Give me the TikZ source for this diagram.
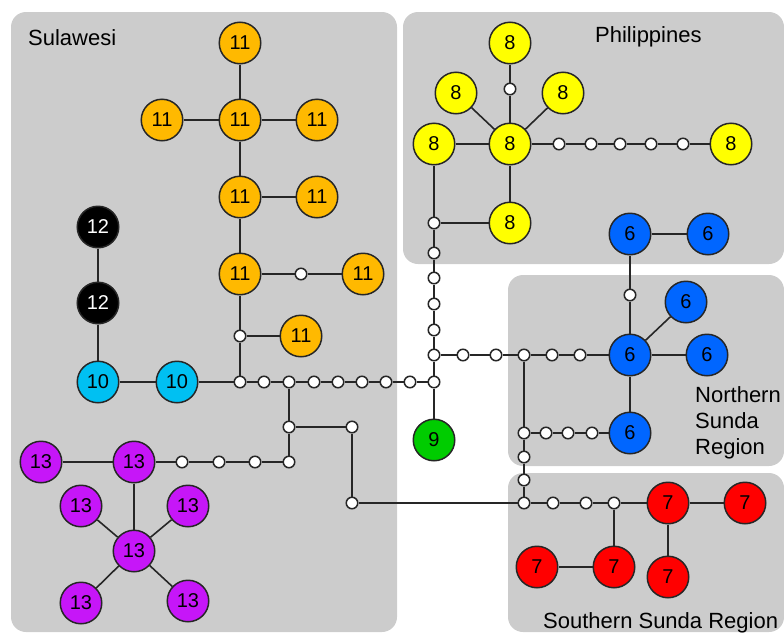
\documentclass[tikz,border=0pt]{standalone}
\usepackage{fontspec}
\setmainfont{Liberation Sans}
\definecolor{panel}{HTML}{CCCCCC}
\definecolor{hOrange}{HTML}{FFB900}
\definecolor{hYellow}{HTML}{FFFF00}
\definecolor{hCyan}{HTML}{00C0F2}
\definecolor{hBlue}{HTML}{0066FF}
\definecolor{hGreen}{HTML}{00CC00}
\definecolor{hRed}{HTML}{FF0000}
\definecolor{hPurple}{HTML}{C616F8}
\definecolor{edge}{HTML}{262626}
\begin{document}
\begin{tikzpicture}[x=1pt, y=-1pt,
  hap/.style={circle, draw=edge, line width=1.5pt, minimum size=41.5pt, inner sep=0pt,
    font=\fontsize{20}{20}\selectfont},
  mv/.style={circle, draw=edge, fill=white, line width=1.5pt, minimum size=11.5pt, inner sep=0pt},
  link/.style={draw=edge, line width=1.6pt},
  region/.style={fill=panel, rounded corners=15pt},
  lbl/.style={font=\fontsize{22}{26}\selectfont, inner sep=0pt}]
  \useasboundingbox (0,0) rectangle (784,632);

  % regions
  \fill[region] (11,12) rectangle (397,632);
  \fill[region] (403,12) rectangle (784,264);
  \fill[region] (508,275) rectangle (784,466);
  \fill[region] (508,473) rectangle (784,632);
  \node[lbl, anchor=base west] at (28,45) {Sulawesi};
  \node[lbl, anchor=base west] at (595,42) {Philippines};
  \node[lbl, anchor=north west, align=left] at (695,386) {Northern\\Sunda\\Region};
  \node[lbl, anchor=base west] at (543,628) {Southern Sunda Region};

  % Sulawesi: 11
  \node[hap, fill=hOrange] (o1) at (240,43) {11};
  \node[hap, fill=hOrange] (o2) at (240,120) {11};
  \node[hap, fill=hOrange] (o2l) at (162,120) {11};
  \node[hap, fill=hOrange] (o2r) at (317,120) {11};
  \node[hap, fill=hOrange] (o3) at (240,197) {11};
  \node[hap, fill=hOrange] (o3r) at (317,197) {11};
  \node[hap, fill=hOrange] (o4) at (240,274) {11};
  \node[mv] (m1) at (301,274) {};
  \node[hap, fill=hOrange] (o4r) at (363,274) {11};
  \node[mv] (m2) at (240,336) {};
  \node[hap, fill=hOrange] (o5) at (301,336) {11};

  % Sulawesi: 12, 10
  \node[hap, fill=black, text=white] (k1) at (98,227) {12};
  \node[hap, fill=black, text=white] (k2) at (98,303) {12};
  \node[hap, fill=hCyan] (c1) at (98,382) {10};
  \node[hap, fill=hCyan] (c2) at (177,382) {10};

  % main chain
  \node[mv] (a1) at (240,382) {};
  \node[mv] (a2) at (264,382) {};
  \node[mv] (a3) at (289,382) {};
  \node[mv] (a4) at (314,382) {};
  \node[mv] (a5) at (338,382) {};
  \node[mv] (a6) at (362,382) {};
  \node[mv] (a7) at (386,382) {};
  \node[mv] (a8) at (410,382) {};
  \node[mv] (a9) at (434,382) {};
  \node[hap, fill=hGreen] (g9) at (434,440) {9};

  \node[mv] (v1) at (434,355) {};
  \node[mv] (v2) at (434,330) {};
  \node[mv] (v3) at (434,304) {};
  \node[mv] (v4) at (434,278) {};
  \node[mv] (v5) at (434,253) {};
  \node[mv] (v6) at (434,223) {};

  % Philippines: 8
  \node[hap, fill=hYellow] (yl) at (434,144) {8};
  \node[hap, fill=hYellow] (yc) at (510,144) {8};
  \node[hap, fill=hYellow] (yb) at (510,223) {8};
  \node[mv] (m3) at (510,89) {};
  \node[hap, fill=hYellow] (yt) at (510,43) {8};
  \node[hap, fill=hYellow] (yul) at (456,93) {8};
  \node[hap, fill=hYellow] (yur) at (563,93) {8};
  \node[mv] (h1) at (559,144) {};
  \node[mv] (h2) at (591,144) {};
  \node[mv] (h3) at (620,144) {};
  \node[mv] (h4) at (651,144) {};
  \node[mv] (h5) at (683,144) {};
  \node[hap, fill=hYellow] (yr) at (731,144) {8};

  % Northern Sunda: 6
  \node[mv] (r1) at (463,355) {};
  \node[mv] (r2) at (496,355) {};
  \node[mv] (r3) at (524,355) {};
  \node[mv] (r4) at (552,355) {};
  \node[mv] (r5) at (580,355) {};
  \node[hap, fill=hBlue] (bc) at (630,355) {6};
  \node[mv] (m4) at (630,295) {};
  \node[hap, fill=hBlue] (bt) at (630,234) {6};
  \node[hap, fill=hBlue] (btr) at (708,234) {6};
  \node[hap, fill=hBlue] (bd) at (686,302) {6};
  \node[hap, fill=hBlue] (br) at (707,355) {6};
  \node[hap, fill=hBlue] (bb) at (630,433) {6};
  \node[mv] (q1) at (592,433) {};
  \node[mv] (q2) at (568,433) {};
  \node[mv] (q3) at (546,433) {};
  \node[mv] (q4) at (524,433) {};
  \node[mv] (d1) at (524,457) {};
  \node[mv] (d2) at (524,480) {};
  \node[mv] (d3) at (524,503) {};

  % Southern Sunda: 7
  \node[mv] (e1) at (553,503) {};
  \node[mv] (e2) at (586,503) {};
  \node[mv] (e3) at (614,503) {};
  \node[hap, fill=hRed] (rc) at (668,503) {7};
  \node[hap, fill=hRed] (rr) at (745,503) {7};
  \node[hap, fill=hRed] (rb) at (668,577) {7};
  \node[hap, fill=hRed] (rm) at (614,567) {7};
  \node[hap, fill=hRed] (rl) at (537,567) {7};

  % Sulawesi: 13
  \node[mv] (w1) at (352,503) {};
  \node[mv] (w2) at (352,427) {};
  \node[mv] (w3) at (289,427) {};
  \node[mv] (w4) at (289,462) {};
  \node[mv] (t1) at (255,462) {};
  \node[mv] (t2) at (219,462) {};
  \node[mv] (t3) at (182,462) {};
  \node[hap, fill=hPurple] (pu) at (134,462) {13};
  \node[hap, fill=hPurple] (pl) at (41,462) {13};
  \node[hap, fill=hPurple] (pc) at (134,551) {13};
  \node[hap, fill=hPurple] (pul) at (81,506) {13};
  \node[hap, fill=hPurple] (pur) at (188,506) {13};
  \node[hap, fill=hPurple] (pdl) at (81,603) {13};
  \node[hap, fill=hPurple] (pdr) at (188,601) {13};

  % links
  \draw[link] (o1) -- (o2) -- (o3) -- (o4) -- (m2) -- (a1);
  \draw[link] (o2l) -- (o2) -- (o2r);
  \draw[link] (o3) -- (o3r);
  \draw[link] (o4) -- (m1) -- (o4r);
  \draw[link] (m2) -- (o5);
  \draw[link] (k1) -- (k2) -- (c1) -- (c2) -- (a1);
  \draw[link] (a1) -- (a2) -- (a3) -- (a4) -- (a5) -- (a6) -- (a7) -- (a8) -- (a9);
  \draw[link] (a9) -- (g9);
  \draw[link] (a9) -- (v1) -- (v2) -- (v3) -- (v4) -- (v5) -- (v6) -- (yl);
  \draw[link] (v6) -- (yb);
  \draw[link] (yl) -- (yc) -- (yb);
  \draw[link] (yc) -- (m3) -- (yt);
  \draw[link] (yc) -- (yul);
  \draw[link] (yc) -- (yur);
  \draw[link] (yc) -- (h1) -- (h2) -- (h3) -- (h4) -- (h5) -- (yr);
  \draw[link] (v1) -- (r1) -- (r2) -- (r3) -- (r4) -- (r5) -- (bc);
  \draw[link] (bc) -- (m4) -- (bt) -- (btr);
  \draw[link] (bc) -- (bd);
  \draw[link] (bc) -- (br);
  \draw[link] (bc) -- (bb) -- (q1) -- (q2) -- (q3) -- (q4);
  \draw[link] (r3) -- (q4) -- (d1) -- (d2) -- (d3);
  \draw[link] (d3) -- (e1) -- (e2) -- (e3) -- (rc) -- (rr);
  \draw[link] (rc) -- (rb);
  \draw[link] (e3) -- (rm) -- (rl);
  \draw[link] (d3) -- (w1) -- (w2) -- (w3) -- (a3);
  \draw[link] (w3) -- (w4) -- (t1) -- (t2) -- (t3) -- (pu) -- (pl);
  \draw[link] (pu) -- (pc);
  \draw[link] (pc) -- (pul);
  \draw[link] (pc) -- (pur);
  \draw[link] (pc) -- (pdl);
  \draw[link] (pc) -- (pdr);
\end{tikzpicture}
\end{document}
